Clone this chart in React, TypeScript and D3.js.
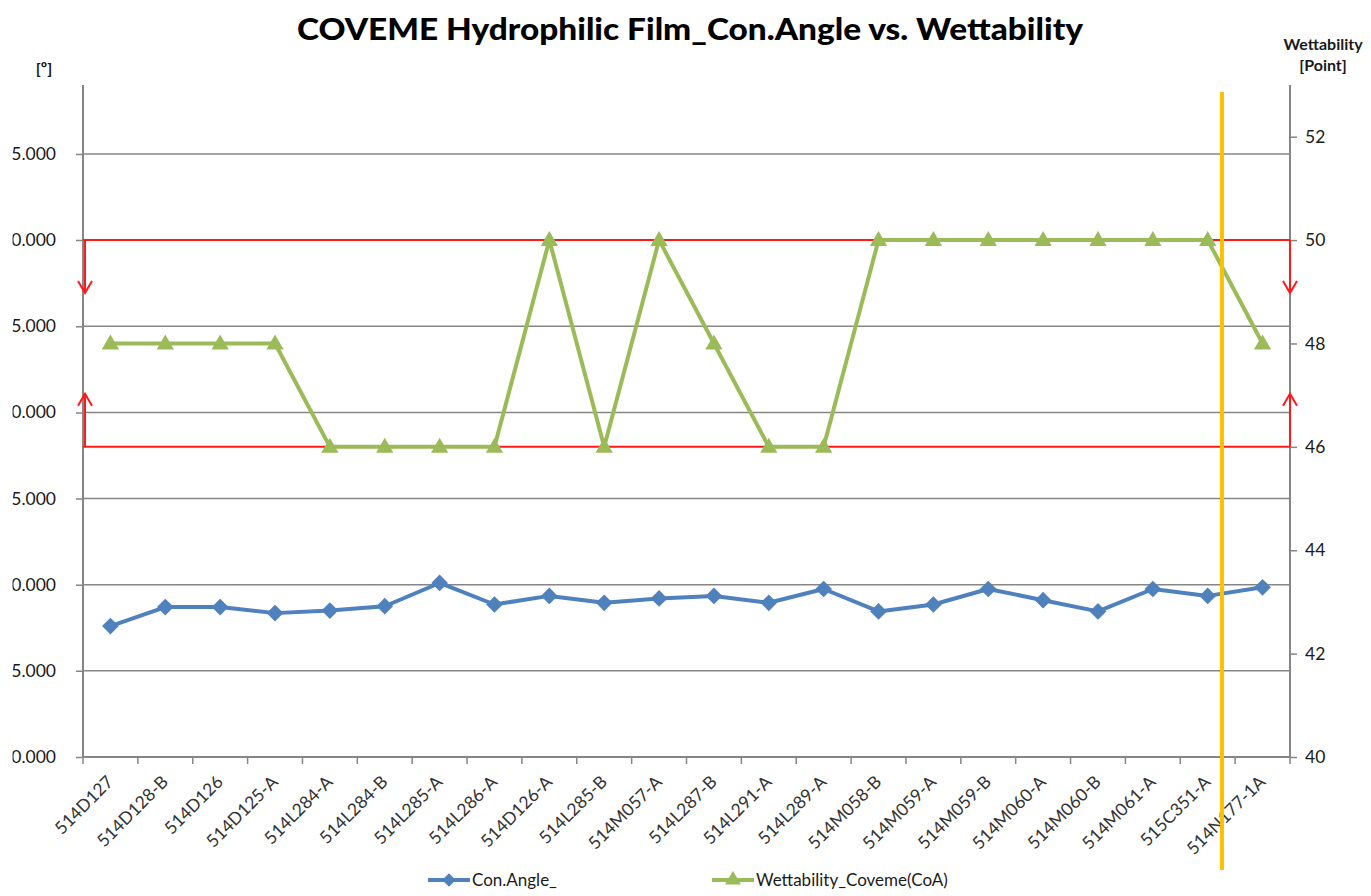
import React, { useRef, useEffect } from 'react';
import * as d3 from 'd3';

const samples = [
  '514D127', '514D128-B', '514D126', '514D125-A', '514L284-A', '514L284-B',
  '514L285-A', '514L286-A', '514D126-A', '514L285-B', '514M057-A', '514L287-B',
  '514L291-A', '514L289-A', '514M058-B', '514M059-A', '514M059-B', '514M060-A',
  '514M060-B', '514M061-A', '515C351-A', '514N177-1A',
];
const conAngle = [
  7.6, 8.7, 8.7, 8.35, 8.5, 8.75, 10.1, 8.85, 9.35, 8.95, 9.2,
  9.35, 8.95, 9.75, 8.45, 8.85, 9.75, 9.1, 8.45, 9.75, 9.35, 9.85,
];
const wettability = [
  48, 48, 48, 48, 46, 46, 46, 46, 50, 46, 50,
  48, 46, 46, 50, 50, 50, 50, 50, 50, 50, 48,
];
const leftTicks = [0, 5, 10, 15, 20, 25, 30, 35];
const rightTicks = [40, 42, 44, 46, 48, 50, 52];
const specLimits = [46, 50];

const FONT = 'Lato, "Open Sans", sans-serif';

const App = () => {
  const svgRef = useRef<SVGSVGElement>(null);

  useEffect(() => {
    const width = 1371;
    const height = 896;
    const plot = { left: 83, right: 1290, top: 85, bottom: 757 };

    const svg = d3.select(svgRef.current);
    svg.selectAll('*').remove();
    svg.attr('width', width).attr('height', height);

    const x = d3.scaleBand().domain(samples).range([plot.left, plot.right]);
    const xc = (d: string) => (x(d) as number) + x.bandwidth() / 2;
    const yL = d3.scaleLinear().domain([0, 39]).range([plot.bottom, plot.top]);
    const yR = d3.scaleLinear().domain([40, 53]).range([plot.bottom, plot.top]);

    const grey = '#868686';

    // title
    svg.append('text')
      .attr('x', 690).attr('y', 40)
      .attr('text-anchor', 'middle')
      .attr('font-family', FONT).attr('font-weight', 900).attr('font-size', 31)
      .attr('textLength', 786).attr('lengthAdjust', 'spacingAndGlyphs')
      .attr('fill', '#000')
      .text('COVEME Hydrophilic Film_Con.Angle vs. Wettability');

    // gridlines
    svg.append('g').selectAll('line')
      .data(leftTicks.filter(t => t > 0))
      .enter().append('line')
      .attr('x1', plot.left).attr('x2', plot.right)
      .attr('y1', d => yL(d)).attr('y2', d => yL(d))
      .attr('stroke', grey).attr('stroke-width', 1.5);

    // left axis (labels cut at the picture's left edge as in the reference)
    svg.append('defs').append('clipPath').attr('id', 'leftclip')
      .append('rect').attr('x', 12.5).attr('y', 0).attr('width', 100).attr('height', height);
    const leftWrap = svg.append('g').attr('clip-path', 'url(#leftclip)');
    const left = leftWrap.append('g')
      .attr('transform', `translate(${plot.left},0)`)
      .call(d3.axisLeft(yL).tickValues(leftTicks).tickFormat(d3.format('.3f')).tickSize(7));
    left.select('.domain').attr('stroke', grey).attr('stroke-width', 2)
      .attr('d', `M0,${plot.top}V${plot.bottom}`);
    left.selectAll('.tick line').attr('stroke', grey).attr('stroke-width', 1.5);
    left.selectAll('.tick text')
      .attr('font-family', FONT).attr('font-size', 17.5).attr('fill', '#1a1a1a')
      .attr('x', -27);

    svg.append('text')
      .attr('x', 44).attr('y', 74).attr('text-anchor', 'middle')
      .attr('font-family', FONT).attr('font-weight', 'bold').attr('font-size', 16)
      .attr('fill', '#1a1a1a').text('[º]');

    // right axis
    const right = svg.append('g')
      .attr('transform', `translate(${plot.right},0)`)
      .call(d3.axisRight(yR).tickValues(rightTicks).tickSize(7).tickPadding(8));
    right.select('.domain').attr('stroke', grey).attr('stroke-width', 2)
      .attr('d', `M0,${plot.top}V${plot.bottom}`);
    right.selectAll('.tick line').attr('stroke', grey).attr('stroke-width', 1.5);
    right.selectAll('.tick text')
      .attr('font-family', FONT).attr('font-size', 17.5).attr('fill', '#1a1a1a');

    svg.append('text')
      .attr('x', 1323).attr('y', 50).attr('text-anchor', 'middle')
      .attr('font-family', FONT).attr('font-weight', 'bold').attr('font-size', 16)
      .attr('fill', '#1a1a1a').text('Wettability');
    svg.append('text')
      .attr('x', 1323).attr('y', 71).attr('text-anchor', 'middle')
      .attr('font-family', FONT).attr('font-weight', 'bold').attr('font-size', 16)
      .attr('fill', '#1a1a1a').text('[Point]');

    // bottom axis
    const bottom = svg.append('g');
    bottom.append('line')
      .attr('x1', plot.left).attr('x2', plot.right)
      .attr('y1', plot.bottom).attr('y2', plot.bottom)
      .attr('stroke', grey).attr('stroke-width', 2);
    bottom.selectAll('.xtick')
      .data([...samples.map(d => x(d) as number), plot.right])
      .enter().append('line')
      .attr('x1', d => d).attr('x2', d => d)
      .attr('y1', plot.bottom).attr('y2', plot.bottom + 7)
      .attr('stroke', grey).attr('stroke-width', 1.5);
    bottom.selectAll('.xlabel')
      .data(samples)
      .enter().append('text')
      .attr('transform', d => `translate(${xc(d) + 4},${plot.bottom + 26}) rotate(-45)`)
      .attr('text-anchor', 'end')
      .attr('font-family', FONT).attr('font-size', 17.5).attr('fill', '#333')
      .text(d => d);

    // spec limit lines with arrows
    const red = '#ff1a1a';
    const limits = svg.append('g');
    specLimits.forEach(v => {
      limits.append('line')
        .attr('x1', plot.left).attr('x2', plot.right)
        .attr('y1', yR(v)).attr('y2', yR(v))
        .attr('stroke', red).attr('stroke-width', 2);
    });
    const arrows = [
      { x: plot.left + 2, from: specLimits[1], dir: 1 },
      { x: plot.left + 2, from: specLimits[0], dir: -1 },
      { x: plot.right, from: specLimits[1], dir: 1 },
      { x: plot.right, from: specLimits[0], dir: -1 },
    ];
    arrows.forEach(a => {
      const y0 = yR(a.from);
      const y1 = y0 + a.dir * 53;
      limits.append('line')
        .attr('x1', a.x).attr('x2', a.x).attr('y1', y0).attr('y2', y1)
        .attr('stroke', red).attr('stroke-width', 2);
      limits.append('path')
        .attr('d', `M${a.x - 7},${y1 - a.dir * 12}L${a.x},${y1}L${a.x + 7},${y1 - a.dir * 12}`)
        .attr('fill', 'none').attr('stroke', red).attr('stroke-width', 2);
    });

    // series lines
    const blue = '#4f81bd';
    const green = '#9bbb59';
    const lineL = d3.line<number>().x((d, i) => xc(samples[i])).y(d => yL(d));
    const lineR = d3.line<number>().x((d, i) => xc(samples[i])).y(d => yR(d));

    svg.append('path').datum(conAngle)
      .attr('d', lineL).attr('fill', 'none')
      .attr('stroke', blue).attr('stroke-width', 4).attr('stroke-linejoin', 'round');
    svg.append('g').selectAll('path')
      .data(conAngle)
      .enter().append('path')
      .attr('d', d3.symbol(d3.symbolSquare, 140) as any)
      .attr('transform', (d, i) => `translate(${xc(samples[i])},${yL(d)}) rotate(45)`)
      .attr('fill', blue);

    svg.append('path').datum(wettability)
      .attr('d', lineR).attr('fill', 'none')
      .attr('stroke', green).attr('stroke-width', 4).attr('stroke-linejoin', 'round');
    svg.append('g').selectAll('path')
      .data(wettability)
      .enter().append('path')
      .attr('d', d3.symbol(d3.symbolTriangle, 130) as any)
      .attr('transform', (d, i) => `translate(${xc(samples[i])},${yR(d) + 1})`)
      .attr('fill', green);

    // orange marker line
    const markX = xc(samples[20]) + x.step() * 0.26;
    svg.append('line')
      .attr('x1', markX).attr('x2', markX).attr('y1', 92).attr('y2', 870)
      .attr('stroke', '#ffc000').attr('stroke-width', 4);

    // legend
    const legend = svg.append('g');
    const items = [
      { label: 'Con.Angle_', color: blue, sym: d3.symbolSquare, rot: 45, size: 90, x: 428 },
      { label: 'Wettability_Coveme(CoA)', color: green, sym: d3.symbolTriangle, rot: 0, size: 110, x: 712 },
    ];
    items.forEach(it => {
      legend.append('line')
        .attr('x1', it.x).attr('x2', it.x + 42).attr('y1', 880).attr('y2', 880)
        .attr('stroke', it.color).attr('stroke-width', 4);
      legend.append('path')
        .attr('d', d3.symbol(it.sym, it.size) as any)
        .attr('transform', `translate(${it.x + 21},880) rotate(${it.rot})`)
        .attr('fill', it.color);
      legend.append('text')
        .attr('x', it.x + 44).attr('y', 886)
        .attr('font-family', FONT).attr('font-size', 17).attr('fill', '#1a1a1a')
        .text(it.label);
    });
  }, []);

  return (
    <svg ref={svgRef} style={{ position: 'absolute', left: 0, top: 0, background: '#fff' }}></svg>
  );
};

export default App;
